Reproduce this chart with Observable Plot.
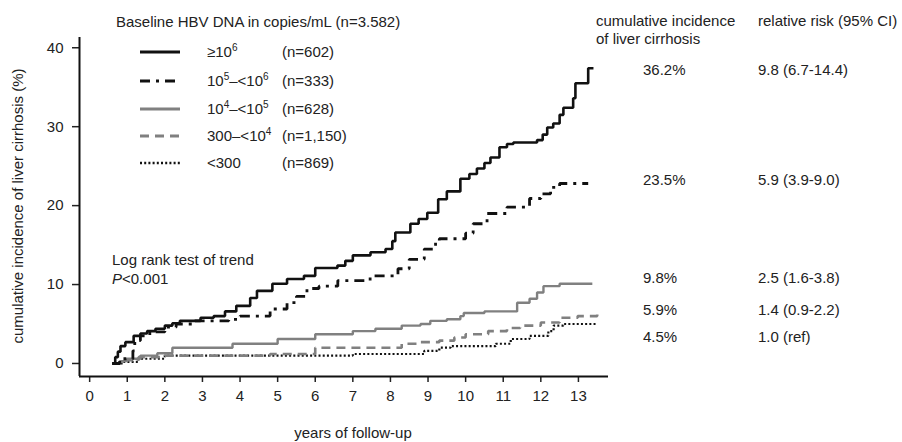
<!DOCTYPE html>
<html><head><meta charset="utf-8">
<script src="https://cdn.jsdelivr.net/npm/d3@7"></script>
<script src="https://cdn.jsdelivr.net/npm/@observablehq/plot@0.6"></script>
<style>
body{margin:0;background:#fff;}
#wrap{position:relative;width:902px;height:442px;font-family:"Liberation Sans",Arial,Helvetica,sans-serif;}
#wrap svg{display:block}
#overlay{position:absolute;left:0;top:0;pointer-events:none}
</style></head><body><div id="wrap"></div>
<script>
// ---- data ----
const xTicks = [0,1,2,3,4,5,6,7,8,9,10,11,12,13];
const yTicks = [0,10,20,30,40];
const xDomain = [-0.27, 13.8];
const yDomain = [-1.65, 41.3];

const legendTitle = "Baseline HBV DNA in copies/mL (n=3.582)";
const groupLabels = ["≥10^6", "10^5–<10^6", "10^4–<10^5", "300–<10^4", "<300"];
const groupCounts = ["(n=602)", "(n=333)", "(n=628)", "(n=1,150)", "(n=869)"];
const incidenceLabels = ["36.2%", "23.5%", "9.8%", "5.9%", "4.5%"];
const riskLabels = ["9.8 (6.7-14.4)", "5.9 (3.9-9.0)", "2.5 (1.6-3.8)", "1.4 (0.9-2.2)", "1.0 (ref)"];
const incidenceHeader = ["cumulative incidence", "of liver cirrhosis"];
const riskHeader = "relative risk (95% CI)";
const testLabel = ["Log rank test of trend", "P", "<0.001"];
const xTitle = "years of follow-up";
const yTitle = "cumulative incidence of liver cirrhosis (%)";

// [years, cumulative incidence %]
const dnaHigh = [[0.6,0],[0.68,0.8],[0.75,1.5],[0.82,2.2],[0.95,2.7],[1.17,3.5],[1.35,3.8],[1.53,4.1],[1.75,4.4],[2.0,4.8],[2.2,5.1],[2.4,5.4],[2.95,5.8],[3.3,6.0],[3.6,6.6],[3.9,7.3],[4.27,8.3],[4.45,9.2],[4.86,10.1],[5.25,10.7],[5.7,11.1],[6.0,12.1],[6.59,12.4],[6.8,13.0],[7.0,13.7],[7.47,14.1],[7.87,14.5],[8.05,15.5],[8.13,16.6],[8.53,17.7],[8.75,18.3],[8.98,19.1],[9.27,20.8],[9.5,21.8],[9.86,23.4],[10.1,24.0],[10.3,24.7],[10.5,25.4],[10.66,26.1],[10.9,27.4],[11.1,27.8],[11.27,28.0],[11.9,28.3],[12.05,29.0],[12.17,29.9],[12.33,30.4],[12.5,31.5],[12.6,32.4],[12.86,33.6],[12.92,35.5],[13.26,37.4],[13.4,37.4]];
const dnaMidHigh = [[0.6,0],[0.8,0.6],[1.15,1.6],[1.2,2.9],[1.35,3.5],[1.6,4.0],[2.0,4.6],[2.3,5.0],[2.8,5.4],[3.7,5.6],[4.0,6.0],[4.8,6.9],[5.25,7.7],[5.5,8.5],[5.78,9.5],[6.1,9.8],[6.6,10.5],[7.46,11.1],[8.2,12.0],[8.5,13.2],[8.9,14.5],[9.2,15.3],[9.3,15.8],[10.0,16.5],[10.2,17.7],[10.57,19.0],[11.1,19.8],[11.7,20.9],[12.0,21.5],[12.26,22.3],[12.5,22.8],[13.26,22.8]];
const dnaMid = [[0.6,0],[0.8,0.3],[1.0,0.6],[1.35,1.0],[1.8,1.3],[2.2,2.0],[3.8,2.5],[5.0,3.1],[6.0,3.7],[7.0,4.1],[7.6,4.4],[8.3,4.8],[8.8,5.0],[9.06,5.4],[9.5,5.6],[9.86,6.0],[9.95,6.4],[10.5,6.6],[11.37,7.7],[11.7,8.2],[11.9,9.0],[12.07,9.8],[12.5,10.1],[13.37,10.1]];
const dnaLowMid = [[0.6,0],[0.9,0.4],[1.3,0.8],[2.0,1.0],[4.8,1.2],[6.0,2.0],[8.3,2.5],[8.8,2.7],[9.3,2.9],[9.7,3.3],[10.0,3.7],[10.6,4.1],[11.1,4.5],[11.45,4.8],[12.0,5.2],[12.5,5.8],[12.98,6.0],[13.5,6.3]];
const dnaLow = [[0.6,0],[0.9,0.2],[1.3,0.6],[2.0,1.0],[7.0,1.2],[8.9,1.6],[9.3,2.0],[9.6,2.2],[10.8,2.5],[11.2,3.1],[11.7,3.5],[12.2,4.1],[12.34,4.8],[12.6,5.0],[13.5,5.0]];

const seriesData = [dnaHigh, dnaMidHigh, dnaMid, dnaLowMid, dnaLow];

// ---- styles (not data) ----
const lineStyles = [
  {stroke:"#111", strokeWidth:2.6, strokeDasharray:null},
  {stroke:"#111", strokeWidth:2.8, strokeDasharray:"10,6,3,6"},
  {stroke:"#808080", strokeWidth:2.4, strokeDasharray:null},
  {stroke:"#808080", strokeWidth:2.6, strokeDasharray:"9,6"},
  {stroke:"#111", strokeWidth:2.2, strokeDasharray:"2,2.2"}
];
const drawOrder = [4,3,2,1,0];

const lineMarks = drawOrder.map(i => Plot.line(seriesData[i], {
  x: d => d[0], y: d => d[1], curve: "step-after",
  stroke: lineStyles[i].stroke, strokeWidth: lineStyles[i].strokeWidth,
  strokeDasharray: lineStyles[i].strokeDasharray, strokeLinejoin: "miter", strokeLinecap: "butt"
}));

const chart = Plot.plot({
  width: 902, height: 442,
  marginLeft: 79, marginRight: 294, marginTop: 37, marginBottom: 66,
  x: {domain: xDomain},
  y: {domain: yDomain},
  style: {fontFamily: '"Liberation Sans", Arial, Helvetica, sans-serif', fontSize: "15px", color: "#222", background: "white"},
  marks: [
    Plot.axisX({ticks: xTicks, tickSize: 6, tickPadding: 8, label: null, tickFormat: d => String(d), strokeWidth: 1.5, fontSize: 15}),
    Plot.axisY({ticks: yTicks, tickSize: 7, tickPadding: 9, label: null, tickFormat: d => String(d), strokeWidth: 1.5, fontSize: 15}),
    ...lineMarks,
    Plot.ruleY([yDomain[0]], {stroke: "#111", strokeWidth: 2}),
    Plot.ruleX([xDomain[0]], {stroke: "#111", strokeWidth: 2})
  ]
});
document.getElementById("wrap").appendChild(chart);

// ---- overlay texts / legend ----
const ov = d3.select("#wrap").append("svg").attr("id","overlay")
  .attr("width",902).attr("height",442)
  .attr("font-family",'"Liberation Sans", Arial, Helvetica, sans-serif')
  .attr("font-size",15).attr("fill","#222");

function rich(sel, str){
  const parts = str.split(/\^(\d)/);
  let up = false;
  parts.forEach((p,i) => {
    if (p === "") return;
    const t = sel.append("tspan").text(p);
    if (i % 2) { t.attr("dy",-6).attr("font-size",10); up = true; }
    else if (up) { t.attr("dy",6); up = false; }
  });
}

ov.append("text").attr("x",116).attr("y",27).text(legendTitle);
const rowY = [52, 81, 109, 136, 163];
groupLabels.forEach((lab,i) => {
  const s = lineStyles[i];
  ov.append("line").attr("x1",140).attr("x2",180).attr("y1",rowY[i]).attr("y2",rowY[i])
    .attr("stroke",s.stroke).attr("stroke-width",s.strokeWidth+0.4)
    .attr("stroke-dasharray",s.strokeDasharray);
  rich(ov.append("text").attr("x",207).attr("y",rowY[i]+5), lab);
  ov.append("text").attr("x",282).attr("y",rowY[i]+5).text(groupCounts[i]);
});

ov.append("text").attr("x",112).attr("y",265).text(testLabel[0]);
const pt = ov.append("text").attr("x",112).attr("y",284);
pt.append("tspan").attr("font-style","italic").text(testLabel[1]);
pt.append("tspan").text(testLabel[2]);

ov.append("text").attr("x",596).attr("y",26).text(incidenceHeader[0]);
ov.append("text").attr("x",596).attr("y",44).text(incidenceHeader[1]);
ov.append("text").attr("x",758).attr("y",26).text(riskHeader);
const tableY = [75, 185, 283, 315, 342];
incidenceLabels.forEach((lab,i) => {
  ov.append("text").attr("x",643).attr("y",tableY[i]).text(lab);
  ov.append("text").attr("x",758).attr("y",tableY[i]).text(riskLabels[i]);
});

ov.append("text").attr("x",353).attr("y",438).attr("text-anchor","middle").text(xTitle);
ov.append("text").attr("transform","translate(23,206) rotate(-90)").attr("text-anchor","middle").text(yTitle);
</script></body></html>
